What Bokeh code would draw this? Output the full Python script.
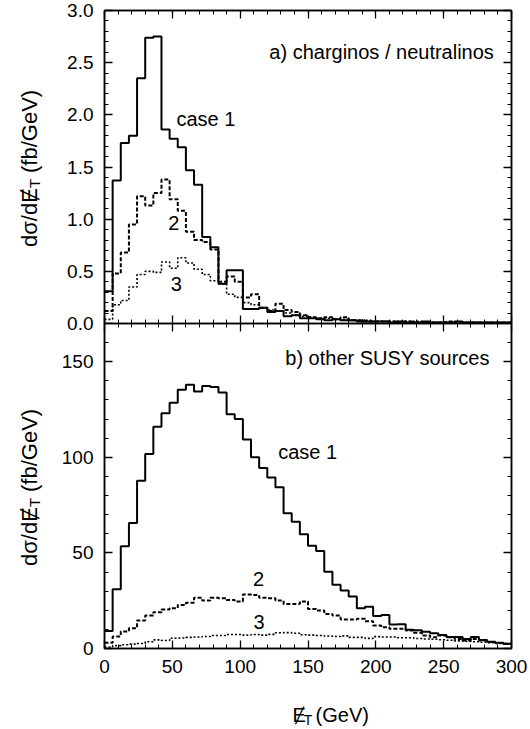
import math
from bokeh.plotting import figure
from bokeh.layouts import column, row
from bokeh.models import (FixedTicker, LinearAxis, Range1d, CustomJSTickFormatter,
                          Label, NumeralTickFormatter)
from bokeh.embed import file_html
from bokeh.resources import INLINE

FONT = "Liberation Sans"

# bin edges (GeV), 6 GeV bins from 0 to 300
edges = list(range(0, 301, 6))

# panel a) charginos / neutralinos  (fb/GeV)
a_case1 = [0.31, 1.37, 1.73, 1.80, 2.35, 2.74, 2.75, 1.86, 1.77, 1.69,
           1.47, 1.33, 0.83, 0.73, 0.38, 0.51, 0.51, 0.14, 0.14, 0.15,
           0.11, 0.12, 0.07, 0.08, 0.05, 0.05, 0.04, 0.03, 0.04, 0.03,
           0.03, 0.02, 0.02, 0.02, 0.02, 0.01, 0.02, 0.01, 0.01, 0.02,
           0.01, 0.01, 0.01, 0.02, 0.01, 0.01, 0.01, 0.01, 0.01, 0.01]
a_case2 = [0.12, 0.48, 0.68, 0.95, 1.22, 1.13, 1.25, 1.38, 1.19, 1.08,
           0.88, 0.80, 0.78, 0.71, 0.40, 0.45, 0.40, 0.25, 0.28, 0.15,
           0.12, 0.19, 0.13, 0.11, 0.08, 0.06, 0.05, 0.06, 0.04, 0.06,
           0.03, 0.03, 0.02, 0.02, 0.02, 0.02, 0.01, 0.02, 0.01, 0.01,
           0.01, 0.01, 0.02, 0.01, 0.01, 0.01, 0.01, 0.01, 0.01, 0.01]
a_case3 = [0.04, 0.18, 0.22, 0.35, 0.47, 0.50, 0.49, 0.59, 0.53, 0.63,
           0.58, 0.52, 0.47, 0.41, 0.38, 0.28, 0.25, 0.20, 0.18, 0.15,
           0.13, 0.12, 0.10, 0.08, 0.07, 0.06, 0.05, 0.05, 0.04, 0.04,
           0.03, 0.03, 0.03, 0.02, 0.02, 0.02, 0.02, 0.02, 0.02, 0.01,
           0.01, 0.01, 0.01, 0.01, 0.01, 0.01, 0.01, 0.01, 0.01, 0.01]

# panel b) other SUSY sources  (fb/GeV)
b_case1 = [9.2, 31.0, 53.5, 65.6, 87.8, 101.7, 116.0, 123.0, 128.5, 135.3,
           137.9, 134.4, 137.3, 136.8, 133.9, 122.5, 120.0, 109.3, 100.0, 94.4,
           89.5, 84.3, 70.8, 66.3, 59.8, 53.8, 51.0, 40.2, 33.3, 30.3,
           27.2, 21.1, 21.9, 17.0, 17.5, 12.5, 12.7, 9.8, 9.5, 8.7,
           8.0, 7.0, 6.0, 6.0, 5.0, 6.0, 4.5, 3.5, 3.0, 2.5]
b_case2 = [3.0, 6.3, 8.9, 10.6, 14.6, 17.2, 19.0, 20.4, 21.1, 22.8,
           23.9, 26.5, 25.1, 26.5, 26.3, 25.4, 24.6, 28.2, 28.0, 26.5,
           26.3, 25.1, 23.3, 23.3, 24.6, 20.7, 19.9, 18.1, 17.2, 15.2,
           15.2, 15.5, 14.3, 12.0, 11.1, 10.3, 10.3, 9.4, 8.2, 6.8,
           5.9, 6.8, 5.9, 5.0, 4.2, 5.0, 4.2, 3.4, 2.9, 2.5]
b_case3 = [0.8, 1.5, 2.0, 2.3, 2.6, 3.5, 4.5, 4.2, 5.4, 5.5,
           5.8, 6.0, 6.3, 6.8, 6.8, 7.3, 7.3, 7.0, 7.3, 7.0,
           7.4, 8.2, 8.3, 8.0, 7.2, 7.0, 6.8, 6.5, 6.3, 6.6,
           5.8, 5.8, 5.3, 6.2, 6.0, 6.0, 5.6, 5.6, 5.2, 5.0,
           4.8, 4.6, 4.3, 4.0, 3.8, 3.5, 3.3, 3.0, 2.7, 2.3]

x_ticks = [0, 50, 100, 150, 200, 250, 300]
x_minor = list(range(0, 301, 10))
a_ticks = [0.0, 0.5, 1.0, 1.5, 2.0, 2.5, 3.0]
a_minor = [i / 10 for i in range(0, 31)]
b_ticks = [0, 50, 100, 150]
b_minor = list(range(0, 171, 10))

# axis title pieces: main text, subscript, rest
YLABEL = ("dσ/dɆ", "T", "(fb/GeV)")
XLABEL = ("Ɇ", "T", "(GeV)")

LEFT_W = 44          # width of the strip that holds the y-axis titles
PLOT_W = 530 - LEFT_W
OVERLAP = 15


def style_axis(ax, ticker, show_labels):
    ax.ticker = ticker
    ax.major_tick_in = 8
    ax.major_tick_out = 0
    ax.minor_tick_in = 4
    ax.minor_tick_out = 0
    ax.axis_line_color = "black"
    ax.axis_line_width = 1.5
    ax.major_tick_line_color = "black"
    ax.minor_tick_line_color = "black"
    ax.major_tick_line_width = 1.3
    ax.minor_tick_line_width = 1.0
    ax.major_label_text_font = FONT
    ax.major_label_text_color = "black"
    if show_labels:
        ax.major_label_text_font_size = "19px"
        ax.major_label_standoff = 11
    else:
        ax.formatter = CustomJSTickFormatter(code="return ''")
        ax.major_label_text_font_size = "0px"
        ax.major_label_standoff = 0


def make_panel(height, y_max, yt, ym, border_top, border_bottom, bottom_labels):
    p = figure(width=PLOT_W, height=height, x_range=Range1d(0, 300),
               y_range=Range1d(0, y_max), output_backend="svg",
               toolbar_location=None, min_border_left=104 - LEFT_W,
               min_border_right=19, min_border_top=border_top,
               min_border_bottom=border_bottom,
               x_axis_location=None, y_axis_location=None)
    p.xgrid.visible = False
    p.ygrid.visible = False
    p.outline_line_color = "black"
    p.outline_line_width = 1.5
    p.background_fill_color = "white"
    p.border_fill_alpha = 0.0
    axes = {}
    for side, ticks, minor, labels in (("below", x_ticks, x_minor, bottom_labels),
                                       ("left", yt, ym, True),
                                       ("above", x_ticks, x_minor, False),
                                       ("right", yt, ym, False)):
        ax = LinearAxis()
        style_axis(ax, FixedTicker(ticks=ticks, minor_ticks=minor), labels)
        p.add_layout(ax, side)
        axes[side] = ax
    return p, axes


def blank(width, height):
    f = figure(width=width, height=height, x_range=Range1d(0, width),
               y_range=Range1d(0, height), output_backend="svg",
               toolbar_location=None, min_border=0,
               x_axis_location=None, y_axis_location=None)
    f.xgrid.visible = False
    f.ygrid.visible = False
    f.outline_line_color = None
    f.background_fill_alpha = 0.0
    f.border_fill_alpha = 0.0
    return f


def draw(p, vals, dash, width):
    p.step(x=edges, y=list(vals) + [vals[-1]], mode="after",
           line_color="black", line_width=width, line_dash=dash)


def label(p, x, y, text, align):
    p.add_layout(Label(x=x, y=y, text=text, text_align=align,
                       text_baseline="middle", text_font=FONT,
                       text_font_size="20px", text_color="black"))


def piece(p, x, y, text, size, angle=0.0):
    p.add_layout(Label(x=x, y=y, text=text, angle=angle, text_align="left",
                       text_baseline="alphabetic", text_font=FONT,
                       text_font_size=size, text_color="black"))


# top panel
pa, axa = make_panel(323 + OVERLAP, 3.0, a_ticks, a_minor, 10, OVERLAP, False)
axa["left"].formatter = NumeralTickFormatter(format="0.0")
draw(pa, a_case3, "2 2", 1.6)
draw(pa, a_case2, "4 2", 2.0)
draw(pa, a_case1, "solid", 2.0)
label(pa, 287, 2.6, "a) charginos / neutralinos", "right")
label(pa, 53, 1.96, "case 1", "left")
label(pa, 51, 0.96, "2", "center")
label(pa, 53, 0.38, "3", "center")

# bottom panel
PB_BOTTOM = 40
pb, axb = make_panel(325 + PB_BOTTOM, 170, b_ticks, b_minor, 0, PB_BOTTOM, True)
draw(pb, b_case3, "2 2", 1.6)
draw(pb, b_case2, "4 2", 2.0)
draw(pb, b_case1, "solid", 2.0)
label(pb, 284, 152, "b) other SUSY sources", "right")
label(pb, 128, 102.6, "case 1", "left")
label(pb, 113.6, 36.6, "2", "center")
label(pb, 114, 13.7, "3", "center")
pb.margin = (-OVERLAP, 0, 0, 0)

# x-axis title strip
XL_H = 729 - (323 + 325 + PB_BOTTOM)
xl = blank(PLOT_W, XL_H)
x0 = (104 + 511) / 2 - LEFT_W - 39
piece(xl, x0, 15, XLABEL[0], "20px")
piece(xl, x0 + 13.5, 10, XLABEL[1], "14px")
piece(xl, x0 + 27.5, 15, XLABEL[2], "20px")

# y-axis title strip (page coordinates, y measured from the bottom)
yl = blank(LEFT_W, 729)
ang = math.pi / 2
for page_mid in ((10 + 323) / 2, (323 + 648) / 2):
    y0 = 729 - page_mid - 80
    piece(yl, 29, y0, YLABEL[0], "22px", ang)
    piece(yl, 34, y0 + 59, YLABEL[1], "15px", ang)
    piece(yl, 29, y0 + 74, YLABEL[2], "22px", ang)

layout = row(yl, column(pa, pb, xl, spacing=0), spacing=0)
open("out.html", "w").write(file_html(layout, INLINE))
